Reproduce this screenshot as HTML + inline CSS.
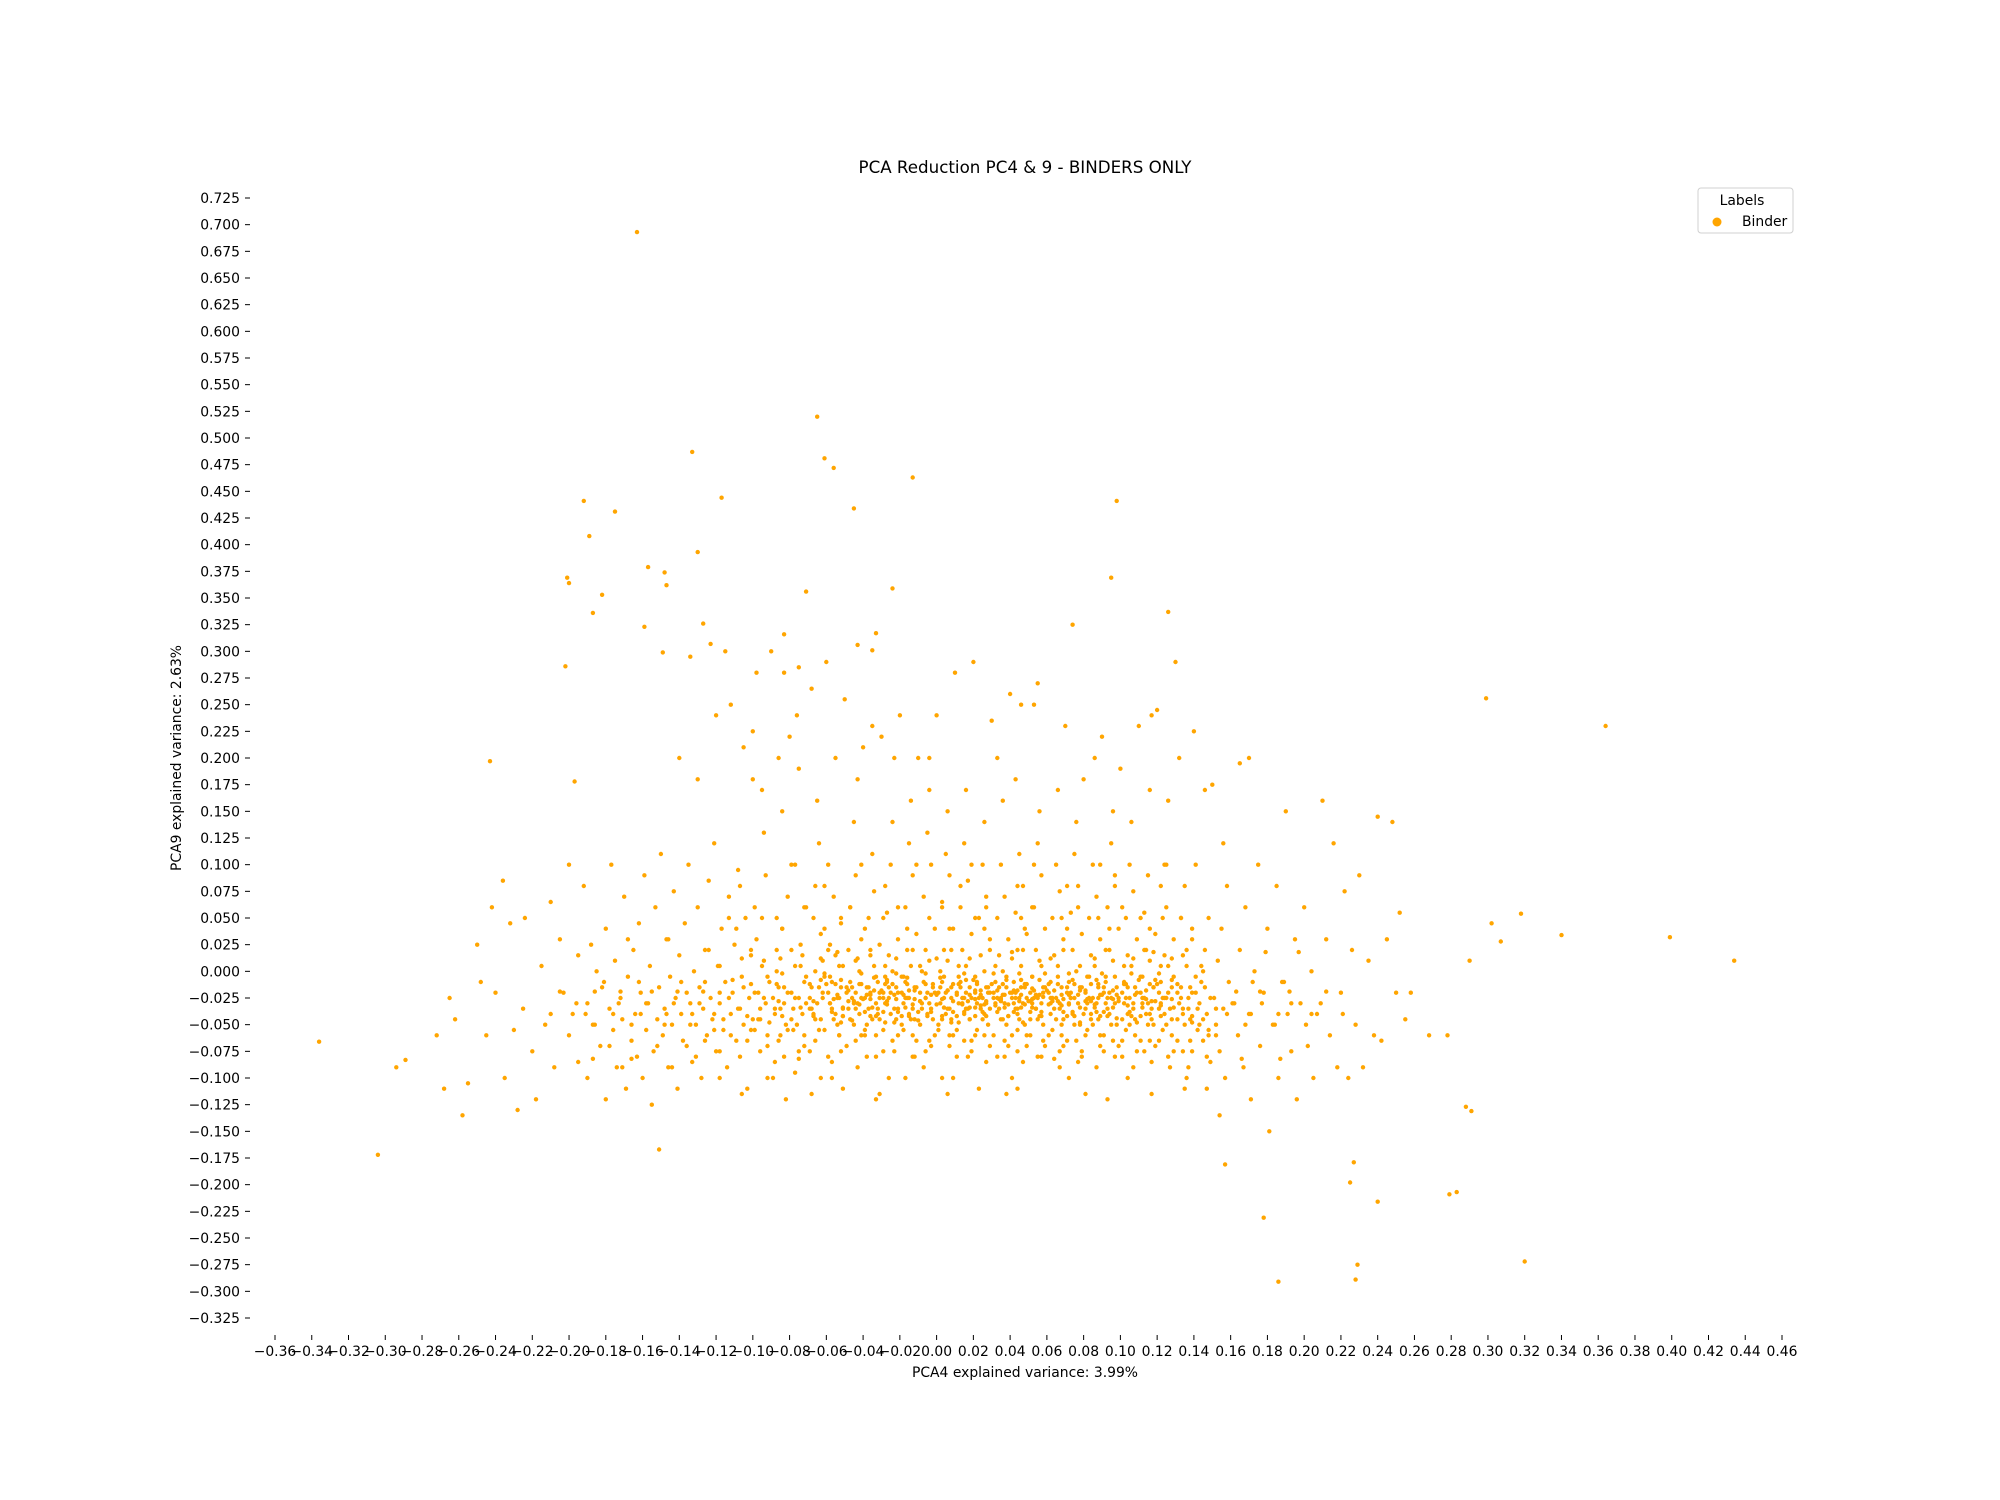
<!DOCTYPE html>
<html><head><meta charset="utf-8"><style>
html,body{margin:0;padding:0;background:#fff;}
svg{display:block;font-family:"DejaVu Sans","Liberation Sans",sans-serif;}
</style></head><body>
<svg id="chart" width="2000" height="1500" viewBox="0 0 2000 1500">
<rect x="0" y="0" width="2000" height="1500" fill="#fff"/>
<text x="1025" y="173" font-size="16.7" text-anchor="middle" fill="#000">PCA Reduction PC4 &amp; 9 - BINDERS ONLY</text>
<g id="points"></g>
<g id="xaxis"></g>
<g id="yaxis"></g>
<text x="1025" y="1377" font-size="13.9" text-anchor="middle">PCA4 explained variance: 3.99%</text>
<text x="0" y="0" transform="translate(181,758) rotate(-90)" font-size="13.9" text-anchor="middle">PCA9 explained variance: 2.63%</text>
<g>
<rect x="1698" y="188" width="95" height="45" rx="3" fill="#fff" stroke="#d0d0d0"/>
<text x="1742" y="205" font-size="13.9" text-anchor="middle">Labels</text>
<circle cx="1717" cy="222" r="4.5" fill="#FFA500"/>
<text x="1742" y="226" font-size="13.9">Binder</text>
</g>
</svg>
<script>
const xTicks=[-0.36,-0.34,-0.32,-0.30,-0.28,-0.26,-0.24,-0.22,-0.20,-0.18,-0.16,-0.14,-0.12,-0.10,-0.08,-0.06,-0.04,-0.02,0.00,0.02,0.04,0.06,0.08,0.10,0.12,0.14,0.16,0.18,0.20,0.22,0.24,0.26,0.28,0.30,0.32,0.34,0.36,0.38,0.40,0.42,0.44,0.46];
const yTicks=[0.725,0.700,0.675,0.650,0.625,0.600,0.575,0.550,0.525,0.500,0.475,0.450,0.425,0.400,0.375,0.350,0.325,0.300,0.275,0.250,0.225,0.200,0.175,0.150,0.125,0.100,0.075,0.050,0.025,0.000,-0.025,-0.050,-0.075,-0.100,-0.125,-0.150,-0.175,-0.200,-0.225,-0.250,-0.275,-0.300,-0.325];
const outlierPoints=[[-0.163,0.693],[-0.065,0.520],[-0.133,0.487],[-0.061,0.481],[-0.056,0.472],[-0.013,0.463],[-0.117,0.444],[-0.192,0.441],[0.098,0.441],[-0.045,0.434],[-0.175,0.431],[-0.189,0.408],[-0.130,0.393],[-0.157,0.379],[-0.148,0.374],[-0.201,0.369],[-0.200,0.364],[-0.147,0.362],[-0.071,0.356],[-0.182,0.353],[0.095,0.369],[-0.024,0.359],[-0.187,0.336],[0.126,0.337],[0.074,0.325],[-0.127,0.326],[-0.159,0.323],[-0.083,0.316],[-0.033,0.317],[-0.123,0.307],[-0.043,0.306],[-0.149,0.299],[-0.134,0.295],[-0.035,0.301],[-0.202,0.286],[0.299,0.256],[0.364,0.230],[-0.243,0.197],[-0.197,0.178],[0.434,0.010],[0.399,0.032],[0.340,0.034],[0.318,0.054],[0.302,0.045],[0.307,0.028],[0.290,0.010],[-0.336,-0.066],[-0.304,-0.172],[-0.294,-0.090],[-0.289,-0.083],[0.320,-0.272],[0.229,-0.275],[0.228,-0.289],[0.186,-0.291],[0.178,-0.231],[0.227,-0.179],[0.225,-0.198],[0.240,-0.216],[0.279,-0.209],[0.283,-0.207],[0.288,-0.127],[0.291,-0.131],[0.157,-0.181],[-0.151,-0.167]];
const leftWingPoints=[[-0.272,-0.06],[-0.268,-0.11],[-0.265,-0.025],[-0.262,-0.045],[-0.258,-0.135],[-0.255,-0.105],[-0.25,0.025],[-0.248,-0.01],[-0.245,-0.06],[-0.242,0.06],[-0.24,-0.02],[-0.236,0.085],[-0.235,-0.1],[-0.232,0.045],[-0.23,-0.055],[-0.228,-0.13],[-0.225,-0.035],[-0.224,0.05],[-0.22,-0.075],[-0.218,-0.12],[-0.215,0.005],[-0.213,-0.05],[-0.21,0.065],[-0.208,-0.09],[-0.205,0.03],[-0.203,-0.02],[-0.2,0.1],[-0.2,-0.06],[-0.198,-0.04],[-0.195,0.015],[-0.195,-0.085],[-0.192,0.08],[-0.19,-0.03],[-0.19,-0.1],[-0.188,0.025],
[-0.186,-0.05],[-0.185,0.0],[-0.183,-0.07],[-0.182,-0.015],[-0.18,-0.12],[-0.18,0.04],[-0.178,-0.035],[-0.177,0.1],[-0.176,-0.055],[-0.175,0.01],[-0.174,-0.09],[-0.172,-0.025],[-0.171,-0.045],[-0.17,0.07],[-0.169,-0.11],[-0.168,-0.005],[-0.166,-0.065],[-0.165,0.02],[-0.164,-0.04],[-0.163,-0.08],[-0.162,0.045],[-0.161,-0.02],[-0.16,-0.1],[-0.159,0.09],[-0.158,-0.055],[-0.157,-0.03],[-0.156,0.005],[-0.155,-0.125],[-0.154,-0.075],[-0.153,0.06],[-0.152,-0.045],[-0.151,-0.015],[-0.15,0.11],[-0.149,-0.06],[-0.148,-0.035],[-0.147,0.03],[-0.146,-0.09],[-0.145,-0.005],[-0.144,-0.05],[-0.143,0.075],[-0.142,-0.025],[-0.141,-0.11],[-0.14,0.015],
[-0.139,-0.04],[-0.138,-0.065],[-0.137,0.045],[-0.136,-0.02],[-0.135,0.1],[-0.134,-0.03],[-0.133,-0.085],[-0.132,0.0],[-0.131,-0.05],[-0.13,0.06],[-0.129,-0.015],[-0.128,-0.1],[-0.127,-0.035],[-0.126,0.02],[-0.125,-0.06],[-0.124,0.085],[-0.123,-0.025],[-0.122,-0.045],[-0.121,0.12],[-0.12,-0.075],[-0.119,0.005],[-0.118,-0.03],[-0.117,0.04],[-0.116,-0.055],[-0.115,-0.01],[-0.114,-0.09],[-0.113,0.07],[-0.112,-0.04],[-0.111,-0.02],[-0.11,0.025],[-0.109,-0.065],[-0.108,0.095],[-0.107,-0.035],[-0.106,-0.005],[-0.105,-0.05],[-0.104,0.05],[-0.103,-0.11],[-0.102,-0.025],[-0.101,0.015],[-0.1,-0.045],[-0.12,0.24],[-0.112,0.25],[-0.105,0.21],[-0.1,0.18],[-0.098,0.28],[-0.095,0.17]];
const corePoints=[[-0.097,-0.02],[-0.096,-0.045],[-0.094,0.01],[-0.093,-0.03],[-0.092,-0.07],[-0.095,0.05],[-0.091,-0.01],[-0.099,-0.055],[-0.094,0.13],[-0.092,-0.1],[-0.098,0.03],[-0.096,-0.035],[-0.093,0.09],
[-0.089,-0.025],[-0.088,-0.04],[-0.087,0.0],[-0.086,-0.015],[-0.085,-0.06],[-0.084,0.04],[-0.083,-0.03],[-0.082,-0.05],[-0.081,0.07],[-0.088,-0.085],[-0.086,0.2],[-0.084,0.15],[-0.082,-0.12],[-0.087,0.02],[-0.085,-0.035],[-0.083,0.28],
[-0.079,-0.02],[-0.078,-0.035],[-0.077,0.005],[-0.076,-0.05],[-0.075,-0.025],[-0.074,0.025],[-0.073,-0.04],[-0.072,-0.07],[-0.071,0.06],[-0.079,0.1],[-0.077,-0.095],[-0.075,0.19],[-0.073,0.015],[-0.072,-0.01],[-0.076,0.24],[-0.071,-0.03],[-0.078,-0.055],
[-0.069,-0.025],[-0.068,-0.015],[-0.067,-0.04],[-0.066,0.0],[-0.065,-0.03],[-0.064,-0.055],[-0.063,0.035],[-0.062,-0.02],[-0.061,0.08],[-0.069,-0.075],[-0.067,0.05],[-0.065,0.16],[-0.063,-0.1],[-0.062,0.01],[-0.066,-0.045],[-0.064,0.12],[-0.068,-0.035],[-0.061,-0.005],
[-0.059,-0.02],[-0.058,-0.03],[-0.057,-0.01],[-0.056,-0.045],[-0.055,0.015],[-0.054,-0.025],[-0.053,-0.06],[-0.052,0.045],[-0.051,-0.035],[-0.059,0.1],[-0.057,-0.085],[-0.055,0.2],[-0.053,0.005],[-0.052,-0.015],[-0.056,0.07],[-0.054,-0.05],[-0.058,0.025],[-0.051,-0.11],[-0.055,-0.04],
[-0.049,-0.02],[-0.048,-0.035],[-0.047,-0.01],[-0.046,-0.025],[-0.045,-0.05],[-0.044,0.01],[-0.043,-0.03],[-0.042,-0.04],[-0.041,0.03],[-0.049,-0.07],[-0.047,0.06],[-0.045,0.14],[-0.043,-0.09],[-0.042,0.0],[-0.046,-0.015],[-0.044,0.09],[-0.048,0.02],[-0.041,-0.06],[-0.045,-0.03],[-0.043,0.18],
[-0.039,-0.025],[-0.038,-0.015],[-0.037,-0.035],[-0.036,-0.02],[-0.035,-0.045],[-0.034,0.005],[-0.033,-0.03],[-0.032,-0.01],[-0.031,0.025],[-0.039,-0.06],[-0.037,0.05],[-0.035,0.11],[-0.033,-0.08],[-0.032,-0.04],[-0.036,0.015],[-0.034,0.075],[-0.038,-0.05],[-0.031,-0.025],[-0.035,0.23],[-0.033,-0.12],
[-0.029,-0.02],[-0.028,-0.03],[-0.027,-0.01],[-0.026,-0.025],[-0.025,-0.04],[-0.024,0.0],[-0.023,-0.035],[-0.022,-0.015],[-0.021,0.03],[-0.029,-0.055],[-0.027,0.055],[-0.025,0.1],[-0.023,-0.075],[-0.022,-0.045],[-0.026,0.015],[-0.024,0.14],[-0.028,-0.005],[-0.021,-0.06],[-0.025,-0.02],[-0.023,0.2],
[-0.019,-0.02],[-0.018,-0.03],[-0.017,-0.01],[-0.016,-0.025],[-0.015,-0.04],[-0.014,0.005],[-0.013,-0.035],[-0.012,-0.015],[-0.011,0.035],[-0.019,-0.05],[-0.017,0.06],[-0.015,0.12],[-0.013,-0.08],[-0.012,-0.045],[-0.016,0.02],[-0.014,0.16],[-0.018,-0.005],[-0.011,-0.065],[-0.015,-0.025],[-0.013,0.09],[-0.017,-0.1],
[-0.009,-0.02],[-0.008,-0.03],[-0.007,-0.01],[-0.006,-0.025],[-0.005,-0.04],[-0.004,0.01],[-0.003,-0.035],[-0.002,-0.015],[-0.001,0.04],[-0.009,-0.05],[-0.007,0.07],[-0.005,0.13],[-0.003,-0.07],[-0.002,-0.045],[-0.006,0.02],[-0.004,0.17],[-0.008,0.0],[-0.001,-0.06],[-0.005,-0.02],[-0.003,0.1],[-0.007,-0.09],[-0.004,0.2],
[0.001,-0.02],[0.002,-0.03],[0.003,-0.01],[0.004,-0.025],[0.005,-0.04],[0.006,0.01],[0.007,-0.035],[0.008,-0.015],[0.009,0.04],[0.001,-0.05],[0.003,0.065],[0.005,0.11],[0.007,-0.07],[0.008,-0.045],[0.004,0.02],[0.006,0.15],[0.002,0.0],[0.009,-0.06],[0.005,-0.02],[0.007,0.09],[0.003,-0.1],
[0.011,-0.02],[0.012,-0.03],[0.013,-0.01],[0.014,-0.025],[0.015,-0.04],[0.016,0.005],[0.017,-0.035],[0.018,-0.015],[0.019,0.035],[0.011,-0.055],[0.013,0.06],[0.015,0.12],[0.017,-0.08],[0.018,-0.045],[0.014,0.02],[0.016,0.17],[0.012,-0.005],[0.019,-0.065],[0.015,-0.025],[0.017,0.085],
[0.021,-0.02],[0.022,-0.03],[0.023,-0.025],[0.024,-0.035],[0.025,-0.045],[0.026,0.0],[0.027,-0.03],[0.028,-0.015],[0.029,0.03],[0.021,-0.06],[0.023,0.05],[0.025,0.1],[0.027,-0.085],[0.028,-0.05],[0.024,0.015],[0.026,0.14],[0.022,-0.01],[0.029,-0.07],[0.025,-0.025],[0.027,0.07],[0.023,-0.11],
[0.031,-0.02],[0.032,-0.03],[0.033,-0.025],[0.034,-0.035],[0.035,-0.045],[0.036,0.0],[0.037,-0.03],[0.038,-0.015],[0.039,0.03],[0.031,-0.06],[0.033,0.05],[0.035,0.1],[0.037,-0.08],[0.038,-0.05],[0.034,0.015],[0.036,0.16],[0.032,-0.01],[0.039,-0.07],[0.035,-0.025],[0.037,0.07],[0.033,0.2],
[0.041,-0.02],[0.042,-0.03],[0.043,-0.025],[0.044,-0.035],[0.045,-0.045],[0.046,0.005],[0.047,-0.03],[0.048,-0.015],[0.049,0.035],[0.041,-0.06],[0.043,0.055],[0.045,0.11],[0.047,-0.085],[0.048,-0.05],[0.044,0.02],[0.046,0.25],[0.042,-0.01],[0.049,-0.07],[0.045,-0.025],[0.047,0.08],[0.043,0.18],[0.044,-0.11],
[0.051,-0.02],[0.052,-0.03],[0.053,-0.025],[0.054,-0.035],[0.055,-0.045],[0.056,0.01],[0.057,-0.03],[0.058,-0.015],[0.059,0.04],[0.051,-0.06],[0.053,0.06],[0.055,0.12],[0.057,-0.08],[0.058,-0.05],[0.054,0.02],[0.056,0.15],[0.052,-0.005],[0.059,-0.07],[0.055,-0.025],[0.057,0.09],[0.053,0.25],
[0.061,-0.02],[0.062,-0.03],[0.063,-0.025],[0.064,-0.035],[0.065,-0.045],[0.066,0.005],[0.067,-0.03],[0.068,-0.015],[0.069,0.03],[0.061,-0.06],[0.063,0.05],[0.065,0.1],[0.067,-0.09],[0.068,-0.05],[0.064,0.015],[0.066,0.17],[0.062,-0.01],[0.069,-0.07],[0.065,-0.025],[0.067,0.075],
[0.071,-0.02],[0.072,-0.03],[0.073,-0.025],[0.074,-0.04],[0.075,-0.05],[0.076,0.0],[0.077,-0.03],[0.078,-0.015],[0.079,0.035],[0.071,-0.065],[0.073,0.055],[0.075,0.11],[0.077,-0.085],[0.078,-0.05],[0.074,0.02],[0.076,0.14],[0.072,-0.01],[0.079,-0.075],[0.075,-0.025],[0.077,0.08],
[0.081,-0.02],[0.082,-0.03],[0.083,-0.025],[0.084,-0.04],[0.085,-0.05],[0.086,0.005],[0.087,-0.03],[0.088,-0.015],[0.089,0.03],[0.081,-0.06],[0.083,0.05],[0.085,0.1],[0.087,-0.09],[0.088,-0.045],[0.084,0.015],[0.086,0.2],[0.082,-0.005],[0.089,-0.07],[0.085,-0.025],[0.087,0.07],
[0.091,-0.02],[0.092,-0.03],[0.093,-0.025],[0.094,-0.04],[0.095,-0.05],[0.096,0.01],[0.097,-0.03],[0.098,-0.015],[0.099,0.04],[0.091,-0.06],[0.093,0.06],[0.095,0.12],[0.097,-0.08],[0.098,-0.05],[0.094,0.02],[0.096,0.15],[0.092,-0.005],[0.099,-0.07],[0.095,-0.025],[0.097,0.09],[0.093,-0.12],
[0.101,-0.02],[0.102,-0.03],[0.103,-0.025],[0.104,-0.04],[0.105,-0.05],[0.106,0.005],[0.107,-0.03],[0.108,-0.015],[0.109,0.03],[0.101,-0.065],[0.103,0.05],[0.105,0.1],[0.107,-0.09],[0.108,-0.045],[0.104,0.015],[0.106,0.14],[0.102,-0.01],[0.109,-0.075],[0.105,-0.025],[0.107,0.075],
[0.111,-0.02],[0.112,-0.03],[0.113,-0.025],[0.114,-0.04],[0.115,-0.05],[0.116,0.01],[0.117,-0.035],[0.118,-0.015],[0.119,0.035],[0.111,-0.065],[0.113,0.055],[0.115,0.09],[0.117,-0.085],[0.118,-0.05],[0.114,0.02],[0.116,0.17],[0.112,-0.005],[0.119,-0.07],[0.115,-0.03],[0.117,0.24],
[0.121,-0.02],[0.122,-0.03],[0.123,-0.025],[0.124,-0.04],[0.125,-0.05],[0.126,0.005],[0.127,-0.035],[0.128,-0.015],[0.129,0.03],[0.121,-0.065],[0.123,0.05],[0.125,0.1],[0.127,-0.09],[0.128,-0.045],[0.124,0.015],[0.126,0.16],[0.122,-0.01],[0.129,-0.075],[0.125,-0.025],
[0.131,-0.02],[0.132,-0.03],[0.133,-0.025],[0.134,-0.04],[0.135,-0.05],[0.136,0.005],[0.137,-0.035],[0.138,-0.015],[0.139,0.03],[0.131,-0.065],[0.133,0.05],[0.135,0.08],[0.137,-0.09],[0.138,-0.045],[0.134,0.015],[0.132,0.2],[0.139,-0.075],[0.135,-0.11],
[0.141,-0.02],[0.142,-0.035],[0.143,-0.05],[0.144,-0.01],[0.145,-0.065],[0.146,0.02],[0.147,-0.04],[0.148,0.05],[0.149,-0.085],[0.141,0.1],[0.143,-0.03],[0.145,0.0],[0.147,-0.11],[0.146,0.17],[0.148,-0.055],
[0.151,-0.025],[0.152,-0.05],[0.153,0.01],[0.154,-0.075],[0.155,0.04],[0.156,-0.035],[0.157,-0.1],[0.158,0.08],[0.159,-0.01],[0.152,-0.06],[0.156,0.12],[0.154,-0.135]];
const bandPoints=[[-0.060,-0.012],[-0.057,-0.038],[-0.054,-0.022],[-0.051,-0.042],[-0.048,-0.018],[-0.045,-0.028],[-0.042,-0.012],[-0.039,-0.038],[-0.036,-0.022],[-0.033,-0.042],[-0.030,-0.018],[-0.027,-0.028],[-0.024,-0.012],[-0.021,-0.038],[-0.018,-0.022],[-0.015,-0.042],[-0.012,-0.018],[-0.009,-0.028],[-0.006,-0.012],[-0.003,-0.038],[0.000,-0.022],[0.003,-0.042],[0.006,-0.018],[0.009,-0.028],[0.012,-0.012],[0.015,-0.038],[0.018,-0.022],[0.021,-0.042],[0.024,-0.018],[0.027,-0.028],[0.030,-0.012],[0.033,-0.038],[0.036,-0.022],[0.039,-0.042],[0.042,-0.018],[0.045,-0.028],[0.048,-0.012],[0.051,-0.038],[0.054,-0.022],[0.057,-0.042],[0.060,-0.018],[0.063,-0.028],[0.066,-0.012],[0.069,-0.038],[0.072,-0.022],[0.075,-0.042],[0.078,-0.018],[0.081,-0.028],[0.084,-0.012],[0.087,-0.038],[0.090,-0.022],[0.093,-0.042],[0.096,-0.018],[0.099,-0.028],[0.102,-0.012],[0.105,-0.038],[0.108,-0.022],[0.111,-0.042],[0.114,-0.018],[0.117,-0.028],[0.120,-0.012],
[-0.058,-0.030],[-0.052,-0.008],[-0.046,-0.046],[-0.040,-0.026],[-0.034,-0.006],[-0.028,-0.048],[-0.022,-0.026],[-0.016,-0.006],[-0.010,-0.046],[-0.004,-0.030],[0.002,-0.006],[0.008,-0.048],[0.014,-0.030],[0.020,-0.008],[0.026,-0.040],[0.032,-0.032],[0.038,-0.008],[0.044,-0.040],[0.050,-0.028],[0.056,-0.008],[0.062,-0.040],[0.068,-0.032],[0.074,-0.008],[0.080,-0.040],[0.086,-0.034],[0.092,-0.010],[0.098,-0.044],[0.104,-0.032],[0.110,-0.008],[0.116,-0.040],[0.122,-0.032],[0.128,-0.008],[0.028,-0.020],[0.034,-0.026],[0.040,-0.020],[0.046,-0.034],[0.024,-0.032],[0.052,-0.016],[0.018,-0.034],[0.058,-0.024]];
const rightWingPoints=[[0.162,-0.03],[0.164,-0.06],[0.165,0.02],[0.167,-0.09],[0.168,0.06],[0.17,-0.04],[0.171,-0.12],[0.173,0.0],[0.175,0.1],[0.176,-0.07],[0.178,-0.02],[0.18,0.04],[0.181,-0.15],[0.183,-0.05],[0.185,0.08],[0.186,-0.1],[0.188,-0.01],[0.19,0.15],[0.191,-0.04],[0.193,-0.075],[0.195,0.03],[0.196,-0.12],[0.198,-0.03],[0.2,0.06],[0.202,-0.07],[0.204,0.0],[0.205,-0.1],[0.207,-0.04],[0.21,0.16],[0.212,0.03],[0.214,-0.06],[0.216,0.12],[0.218,-0.09],[0.22,-0.02],[0.222,0.075],[0.224,-0.1],[0.226,0.02],[0.228,-0.05],[0.23,0.09],[0.232,-0.09],[0.235,0.01],[0.238,-0.06],[0.24,0.145],[0.242,-0.065],[0.245,0.03],[0.248,0.14],[0.25,-0.02],[0.252,0.055],[0.255,-0.045],[0.258,-0.02],[0.268,-0.06],[0.278,-0.06]];
const upperPoints=[[-0.08,0.22],[-0.075,0.285],[-0.068,0.265],[-0.06,0.29],[-0.05,0.255],[-0.04,0.21],[-0.03,0.22],[-0.02,0.24],[-0.01,0.2],[0.0,0.24],[0.01,0.28],[0.02,0.29],[0.03,0.235],[0.04,0.26],[0.055,0.27],[0.07,0.23],[0.08,0.18],[0.09,0.22],[0.1,0.19],[0.11,0.23],[0.12,0.245],[0.13,0.29],[0.14,0.225],[0.15,0.175],[0.165,0.195],[0.17,0.2],[-0.13,0.18],[-0.115,0.3],[-0.14,0.2],[-0.09,0.3],[-0.1,0.225]];
// extra density rows: each row's PCA9 value and the PCA4 values of points on that row
const rowPca9=[-0.005,-0.015,-0.025,-0.035,-0.045,-0.055,-0.065,-0.08,0.005,0.02,0.04,0.06,-0.1,-0.022,-0.031,-0.018,-0.038,-0.03,-0.05,-0.01,-0.07,0.03,-0.09,-0.028,-0.048,-0.008,-0.082,0.018,
-0.012,-0.042,-0.06,0.012,-0.075,-0.02,-0.026,-0.034,-0.002,0.05,0.08,-0.115,0.1,-0.04,-0.019];
const rowPca4=[
[-0.092,-0.071,-0.058,-0.033,-0.019,0.004,0.021,0.038,0.052,0.066,0.083,0.097,0.111,0.129,0.141],
[-0.105,-0.083,-0.064,-0.049,-0.037,-0.026,-0.011,0.002,0.013,0.027,0.034,0.046,0.059,0.071,0.079,0.091,0.104,0.118,0.133,0.146],
[-0.113,-0.094,-0.077,-0.062,-0.053,-0.041,-0.029,-0.017,-0.006,0.008,0.019,0.031,0.041,0.049,0.062,0.073,0.088,0.099,0.112,0.124,0.137,0.149],
[-0.108,-0.088,-0.069,-0.057,-0.044,-0.032,-0.021,-0.008,0.006,0.016,0.029,0.043,0.054,0.067,0.081,0.093,0.107,0.121,0.134,0.152],
[-0.116,-0.097,-0.079,-0.063,-0.047,-0.031,-0.014,0.003,0.018,0.036,0.051,0.069,0.084,0.101,0.117,0.131,0.145],
[-0.121,-0.101,-0.081,-0.061,-0.039,-0.018,0.001,0.022,0.044,0.063,0.082,0.103,0.123,0.142],
[-0.126,-0.103,-0.086,-0.066,-0.044,-0.024,-0.004,0.015,0.037,0.058,0.076,0.096,0.116,0.138],
[-0.131,-0.107,-0.083,-0.059,-0.038,-0.012,0.011,0.033,0.055,0.079,0.101,0.126,0.147],
[-0.118,-0.095,-0.074,-0.051,-0.028,-0.009,0.012,0.032,0.057,0.078,0.102,0.122,0.144],
[-0.124,-0.101,-0.079,-0.059,-0.036,-0.013,0.008,0.029,0.047,0.069,0.092,0.113,0.136],
[-0.109,-0.084,-0.061,-0.039,-0.016,0.007,0.026,0.048,0.071,0.094,0.116,0.139],
[-0.099,-0.072,-0.047,-0.021,0.003,0.027,0.052,0.077,0.101,0.125],
[-0.118,-0.089,-0.057,-0.026,0.009,0.041,0.072,0.104,0.136],
[-0.038,-0.023,-0.003,0.011,0.024,0.037,0.046,0.056,0.068,0.077,0.089,0.098],
[-0.042,-0.027,-0.013,0.0,0.014,0.026,0.039,0.048,0.061,0.072,0.086],
[-0.034,-0.015,0.006,0.021,0.033,0.044,0.053,0.064,0.081],
[-0.029,-0.01,0.009,0.025,0.042,0.057,0.074,0.091],
[-0.196,-0.173,-0.158,-0.143,-0.129,0.161,0.177,0.193,0.209],
[-0.187,-0.166,-0.148,-0.134,0.168,0.184,0.201],
[-0.181,-0.162,-0.139,-0.126,0.172,0.189],
[-0.178,-0.152,-0.136],
[-0.168,-0.146],
[-0.171,-0.144],
[-0.086,-0.067,-0.048,-0.009,0.017,0.035,0.051,0.066,0.084,0.119],
[-0.091,-0.052,-0.023,0.012,0.047,0.078,0.109,0.139],
[-0.111,-0.063,-0.027,0.016,0.046,0.087,0.119],
[-0.166,-0.187,0.166,0.187,-0.075,0.064],
[0.179,0.197,-0.054,0.041,0.118],
[-0.101,-0.087,-0.069,-0.055,-0.041,-0.028,-0.016,-0.002,0.009,0.022,0.036,0.049,0.061,0.075,0.088,0.103,0.116,0.131],
[-0.103,-0.084,-0.067,-0.051,-0.036,-0.019,-0.005,0.011,0.027,0.039,0.056,0.071,0.089,0.106,0.122,0.139],
[-0.112,-0.092,-0.072,-0.053,-0.033,-0.013,0.007,0.026,0.049,0.068,0.089,0.108,0.128,0.148],
[-0.106,-0.085,-0.063,-0.043,-0.022,0.0,0.018,0.041,0.062,0.086,0.107,0.128],
[-0.118,-0.096,-0.075,-0.052,-0.029,-0.006,0.019,0.044,0.067,0.091,0.113,0.134],
[-0.118,-0.099,-0.081,-0.044,-0.031,-0.021,-0.001,0.016,0.029,0.043,0.058,0.073,0.094,0.109,0.126,0.139],
[-0.056,-0.036,-0.012,0.003,0.021,0.035,0.052,0.069,0.082,0.096,0.114,0.128],
[-0.074,-0.051,-0.035,-0.017,0.004,0.021,0.037,0.052,0.078,0.096,0.112,0.129],
[-0.084,-0.061,-0.041,-0.022,-0.006,0.015,0.031,0.045,0.059,0.072,0.09,0.106,0.121],
[-0.113,-0.087,-0.052,-0.029,-0.004,0.021,0.046,0.068,0.088,0.111,0.133],
[-0.107,-0.066,-0.028,0.013,0.044,0.071,0.097,0.122],
[-0.106,-0.068,-0.031,0.006,0.038,0.081,0.117],
[-0.077,-0.041,-0.011,0.019,0.053,0.089,0.124],
[-0.21,-0.191,-0.176,-0.161,-0.147,-0.133,-0.121,0.158,0.171,0.186,0.204,0.221],
[-0.205,-0.186,-0.172,-0.155,-0.141,-0.127,0.163,0.176,0.192,0.212]];

const NS='http://www.w3.org/2000/svg';
function xScale(v){return 275+(v+0.36)/0.82*1507;}
function yScale(v){return 198+(0.725-v)/1.05*1120;}
function fmt(v,d){const s=Math.abs(v).toFixed(d);return (v<0?'\u2212':'')+s;}

const ptsG=document.getElementById('points');
function drawPoint(px,py){
  const c=document.createElementNS(NS,'circle');
  c.setAttribute('cx',xScale(px).toFixed(1));
  c.setAttribute('cy',yScale(py).toFixed(1));
  c.setAttribute('r','2.2');
  c.setAttribute('fill','#FFA500');
  
  
  ptsG.appendChild(c);
}
const allGroups=[outlierPoints,leftWingPoints,corePoints,bandPoints,rightWingPoints,upperPoints];
allGroups.forEach(function(group){group.forEach(function(p){drawPoint(p[0],p[1]);});});
rowPca9.forEach(function(yv,i){(rowPca4[i]||[]).forEach(function(xv){drawPoint(xv,yv);});});

const xg=document.getElementById('xaxis');
xTicks.forEach(function(t){
  const x=xScale(t);
  const l=document.createElementNS(NS,'line');
  l.setAttribute('x1',x);l.setAttribute('x2',x);l.setAttribute('y1',1335);l.setAttribute('y2',1340);
  l.setAttribute('stroke','#000');l.setAttribute('stroke-width','1');
  
  
  xg.appendChild(l);
  const tx=document.createElementNS(NS,'text');
  tx.setAttribute('x',x);tx.setAttribute('y',1356);
  tx.setAttribute('font-size','13.9');tx.setAttribute('text-anchor','middle');
  tx.textContent=fmt(t,2);
  
  
  xg.appendChild(tx);
});
const yg=document.getElementById('yaxis');
yTicks.forEach(function(t){
  const y=yScale(t);
  const l=document.createElementNS(NS,'line');
  l.setAttribute('x1',245);l.setAttribute('x2',250);l.setAttribute('y1',y);l.setAttribute('y2',y);
  l.setAttribute('stroke','#000');l.setAttribute('stroke-width','1');
  
  
  yg.appendChild(l);
  const tx=document.createElementNS(NS,'text');
  tx.setAttribute('x',240);tx.setAttribute('y',y+5);
  tx.setAttribute('font-size','13.9');tx.setAttribute('text-anchor','end');
  tx.textContent=fmt(t,3);
  
  
  yg.appendChild(tx);
});
</script>
</body></html>
